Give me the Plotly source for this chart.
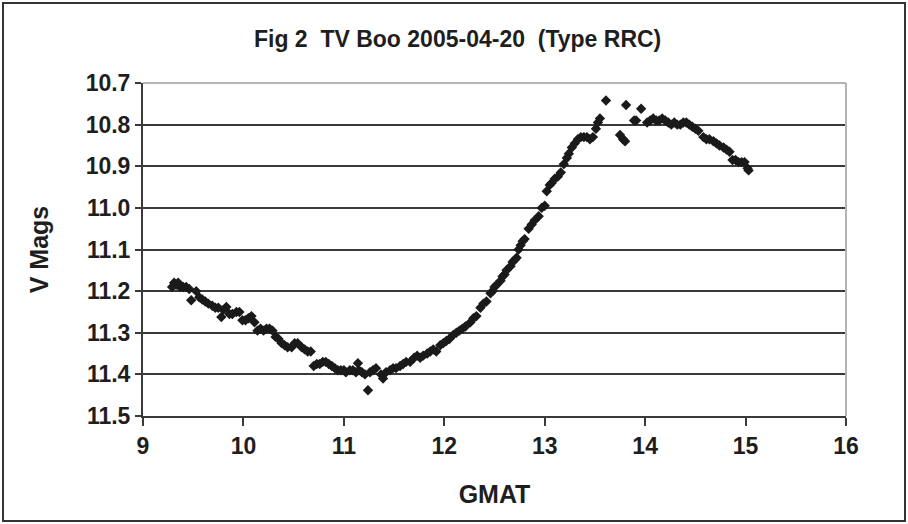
import plotly.graph_objects as go

# Observation times (GMAT, hours) and V magnitudes of TV Boo on 2005-04-20
gmat = [
    9.29, 9.31, 9.33, 9.35, 9.37, 9.40, 9.43, 9.46, 9.48, 9.53,
    9.56, 9.59, 9.62, 9.65, 9.69, 9.72, 9.75, 9.78, 9.80, 9.83,
    9.86, 9.89, 9.93, 9.96, 9.99, 10.02, 10.05, 10.08, 10.11, 10.14,
    10.17, 10.20, 10.23, 10.26, 10.29, 10.32, 10.35, 10.38, 10.41, 10.44,
    10.48, 10.51, 10.54, 10.58, 10.61, 10.64, 10.67, 10.70, 10.73, 10.76,
    10.79, 10.82, 10.85, 10.88, 10.91, 10.94, 10.97, 11.00, 11.02, 11.06,
    11.09, 11.12, 11.14, 11.15, 11.18, 11.21, 11.24, 11.26, 11.29, 11.32,
    11.37, 11.39, 11.42, 11.46, 11.49, 11.52, 11.56, 11.59, 11.62, 11.66,
    11.70, 11.73, 11.76, 11.79, 11.83, 11.86, 11.89, 11.92, 11.96, 11.99,
    12.02, 12.05, 12.09, 12.12, 12.15, 12.18, 12.21, 12.26, 12.29, 12.32,
    12.36, 12.39, 12.42, 12.46, 12.48, 12.50, 12.52, 12.56, 12.58, 12.60,
    12.62, 12.66, 12.68, 12.70, 12.72, 12.74, 12.76, 12.78, 12.80, 12.84,
    12.87, 12.90, 12.94, 12.97, 13.00, 13.02, 13.05, 13.07, 13.10, 13.13,
    13.16, 13.19, 13.22, 13.24, 13.27, 13.30, 13.33, 13.36, 13.39, 13.42,
    13.45, 13.48, 13.51, 13.53, 13.55, 13.61, 13.75, 13.78, 13.80, 13.81,
    13.89, 13.91, 13.96, 14.02, 14.05, 14.08, 14.11, 14.14, 14.17, 14.20,
    14.23, 14.26, 14.29, 14.32, 14.35, 14.38, 14.41, 14.44, 14.47, 14.50,
    14.53, 14.58, 14.61, 14.64, 14.68, 14.71, 14.74, 14.78, 14.81, 14.84,
    14.87, 14.90, 14.93, 14.96, 14.99, 15.02, 15.03,
]
vmag = [
    11.190, 11.180, 11.185, 11.180, 11.190, 11.190, 11.190, 11.195, 11.222, 11.200,
    11.215, 11.220, 11.225, 11.230, 11.235, 11.240, 11.240, 11.262, 11.245, 11.238,
    11.255, 11.255, 11.250, 11.250, 11.270, 11.270, 11.265, 11.260, 11.275, 11.295,
    11.290, 11.295, 11.290, 11.290, 11.295, 11.310, 11.315, 11.325, 11.330, 11.335,
    11.335, 11.325, 11.325, 11.335, 11.340, 11.345, 11.345, 11.380, 11.375, 11.375,
    11.370, 11.370, 11.375, 11.380, 11.385, 11.390, 11.390, 11.390, 11.395, 11.390,
    11.390, 11.395, 11.373, 11.390, 11.395, 11.400, 11.438, 11.395, 11.390, 11.385,
    11.400, 11.410, 11.395, 11.390, 11.385, 11.385, 11.380, 11.375, 11.370, 11.370,
    11.360, 11.355, 11.360, 11.355, 11.350, 11.345, 11.340, 11.345, 11.330, 11.325,
    11.320, 11.315, 11.305, 11.300, 11.295, 11.290, 11.285, 11.275, 11.265, 11.260,
    11.240, 11.230, 11.225, 11.205, 11.200, 11.190, 11.185, 11.175, 11.165, 11.160,
    11.150, 11.140, 11.130, 11.125, 11.120, 11.100, 11.090, 11.080, 11.075, 11.050,
    11.040, 11.030, 11.020, 11.000, 10.995, 10.960, 10.945, 10.940, 10.930, 10.925,
    10.915, 10.895, 10.880, 10.870, 10.855, 10.845, 10.835, 10.830, 10.830, 10.830,
    10.835, 10.830, 10.810, 10.795, 10.785, 10.742, 10.825, 10.835, 10.840, 10.753,
    10.790, 10.790, 10.762, 10.795, 10.790, 10.785, 10.790, 10.790, 10.785, 10.790,
    10.795, 10.800, 10.795, 10.800, 10.800, 10.795, 10.795, 10.800, 10.805, 10.810,
    10.815, 10.830, 10.835, 10.835, 10.840, 10.845, 10.850, 10.855, 10.860, 10.865,
    10.885, 10.885, 10.890, 10.890, 10.890, 10.905, 10.910,
]

x_ticks = [9, 10, 11, 12, 13, 14, 15, 16]
y_ticks = [10.7, 10.8, 10.9, 11.0, 11.1, 11.2, 11.3, 11.4, 11.5]

title_text = "Fig 2  TV Boo 2005-04-20  (Type RRC)"
x_title = "GMAT"
y_title = "V Mags"

FONT = "Liberation Sans, Arial, sans-serif"
INK = "#1e1e1e"
GRID = "#3a3a3a"

fig = go.Figure()
fig.add_trace(go.Scatter(
    x=gmat, y=vmag, mode="markers",
    marker=dict(symbol="diamond", size=8, color="#1a1a1a", line=dict(width=0)),
    hoverinfo="x+y", showlegend=False,
))

fig.update_layout(
    width=908, height=524,
    margin=dict(l=143, r=62, t=83, b=108),
    paper_bgcolor="white", plot_bgcolor="white",
    font=dict(family=FONT, color=INK, size=18),
    title=dict(
        text=title_text, x=0.504, xanchor="center", y=0.925, yanchor="middle",
        font=dict(family=FONT, size=23, weight="bold", color=INK),
    ),
    xaxis=dict(
        range=[9, 16], tickvals=x_ticks, ticktext=[str(v) for v in x_ticks],
        showgrid=False, zeroline=False,
        showline=True, linecolor=GRID, linewidth=2,
        ticks="outside", ticklen=8, tickwidth=1.5, tickcolor=GRID,
        tickfont=dict(family=FONT, size=23, weight="bold", color=INK),
        title=dict(text=x_title, standoff=28,
                   font=dict(family=FONT, size=25, weight="bold", color=INK)),
    ),
    yaxis=dict(
        range=[11.5, 10.7], tickvals=y_ticks,
        ticktext=[f"{v:.1f}" for v in y_ticks],
        showgrid=True, gridcolor=GRID, gridwidth=2, zeroline=False,
        showline=True, linecolor=GRID, linewidth=2,
        ticks="outside", ticklen=6, tickwidth=1.5, tickcolor=GRID,
        tickfont=dict(family=FONT, size=23, weight="bold", color=INK),
        title=dict(text=y_title, standoff=30,
                   font=dict(family=FONT, size=25, weight="bold", color=INK)),
    ),
    shapes=[
        # light frame along the top and right of the plotting area
        dict(type="line", xref="paper", yref="paper", x0=0, x1=1, y0=1, y1=1,
             line=dict(color="#b4b4b4", width=2)),
        dict(type="line", xref="paper", yref="paper", x0=1, x1=1, y0=0, y1=1,
             line=dict(color="#b4b4b4", width=2)),
        # outer chart border
        dict(type="rect", xref="paper", yref="paper",
             x0=(3 - 143) / 703, x1=(905 - 143) / 703,
             y0=(416 - 521) / 333, y1=(416 - 3) / 333,
             line=dict(color="#333333", width=2), layer="below"),
    ],
)

fig.write_html("out.html")
